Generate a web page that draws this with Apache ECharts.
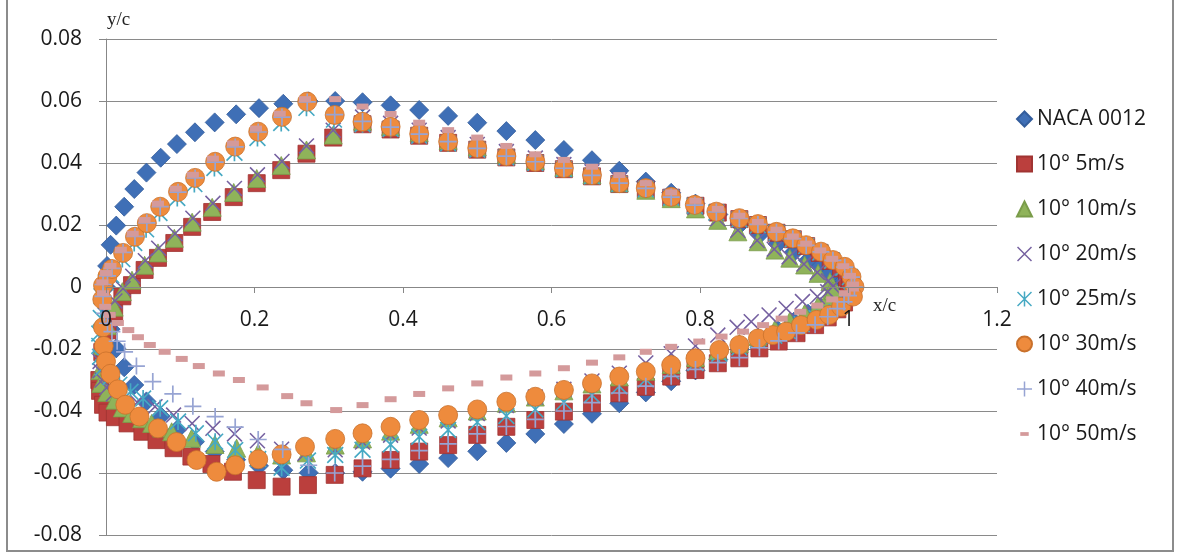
<!DOCTYPE html>
<html>
<head>
<meta charset="utf-8">
<script src="https://cdn.jsdelivr.net/npm/echarts@6/dist/echarts.min.js"></script>
<style>
html,body{margin:0;padding:0;background:#fff;}
#chart{width:1178px;height:554px;}
</style>
</head>
<body>
<div id="chart"></div>
<script>
// ---------------- DATA ----------------
const seriesNames = ['NACA 0012','10° 5m/s','10° 10m/s','10° 20m/s','10° 25m/s','10° 30m/s','10° 40m/s','10° 50m/s'];
const xTicks = [0, 0.2, 0.4, 0.6, 0.8, 1, 1.2];
const yTicks = [-0.08, -0.06, -0.04, -0.02, 0, 0.02, 0.04, 0.06, 0.08];

// NACA 0012 profile
const naca_x  = [0,0.0015,0.0062,0.0138,0.0245,0.0381,0.0545,0.0737,0.0955,0.1198,0.1464,0.1753,0.2061,0.2388,0.2730,0.3087,0.3455,0.3833,0.4218,0.4608,0.5000,0.5392,0.5782,0.6167,0.6545,0.6913,0.7270,0.7612,0.7939,0.8247,0.8536,0.8802,0.9045,0.9263,0.9455,0.9619,0.9755,0.9862,0.9938,0.9985,1.0];
const naca_yu = [0,0.0068,0.0136,0.0198,0.0259,0.0316,0.0369,0.0417,0.0461,0.0499,0.0531,0.0557,0.0577,0.0591,0.0599,0.0600,0.0596,0.0586,0.0571,0.0552,0.0530,0.0503,0.0474,0.0442,0.0409,0.0375,0.0340,0.0304,0.0269,0.0234,0.0201,0.0169,0.0139,0.0112,0.0086,0.0065,0.0046,0.0032,0.0021,0.0014,0.0013];
const naca_yl = [0,-0.0068,-0.0136,-0.0198,-0.0259,-0.0316,-0.0369,-0.0417,-0.0461,-0.0499,-0.0531,-0.0557,-0.0577,-0.0591,-0.0599,-0.0600,-0.0596,-0.0586,-0.0571,-0.0552,-0.0530,-0.0503,-0.0474,-0.0442,-0.0409,-0.0375,-0.0340,-0.0304,-0.0269,-0.0234,-0.0201,-0.0169,-0.0139,-0.0112,-0.0086,-0.0065,-0.0046,-0.0032,-0.0021,-0.0014,-0.0013];

// 10° 5m/s
const s5_up = [[-0.009,-0.030],[-0.005,-0.021],[0.002,-0.014],[0.011,-0.008],[0.022,-0.003],[0.035,0.0006],[0.052,0.0055],[0.070,0.0094],[0.092,0.0142],[0.116,0.0194],[0.143,0.0242],[0.172,0.0290],[0.203,0.0335],[0.236,0.0377],[0.270,0.0430],[0.306,0.0482],[0.3455,0.0525],[0.3833,0.0508],[0.4218,0.0488],[0.4608,0.0465],[0.5,0.0443],[0.5392,0.0418],[0.5782,0.0400],[0.6167,0.0380],[0.6545,0.0357],[0.6913,0.0332],[0.727,0.0315],[0.7612,0.0288],[0.7939,0.0262],[0.824,0.0240],[0.853,0.0219],[0.878,0.0200],[0.903,0.0175],[0.925,0.0154],[0.943,0.0132],[0.961,0.0110],[0.976,0.0084],[0.990,0.0060],[0.998,0.0030],[1.002,0.0000]];
const s5_lo = [[-0.008,-0.0335],[-0.004,-0.038],[0.002,-0.0405],[0.012,-0.0420],[0.029,-0.0440],[0.049,-0.0467],[0.068,-0.0494],[0.091,-0.0520],[0.115,-0.0547],[0.142,-0.0571],[0.171,-0.0596],[0.203,-0.0623],[0.2365,-0.0644],[0.272,-0.0639],[0.308,-0.0606],[0.3455,-0.0585],[0.3833,-0.0558],[0.4218,-0.0531],[0.4608,-0.0510],[0.5,-0.0477],[0.5392,-0.0451],[0.5782,-0.0429],[0.6167,-0.0402],[0.6545,-0.0375],[0.6913,-0.0343],[0.727,-0.0322],[0.7612,-0.0289],[0.7939,-0.0268],[0.824,-0.0246],[0.853,-0.0230],[0.880,-0.0198],[0.906,-0.0176],[0.930,-0.0149],[0.955,-0.0123],[0.972,-0.0098],[0.985,-0.0072],[0.994,-0.0050],[1.000,-0.0030]];

// 10° 10m/s
const s10_up = [[-0.008,-0.027],[-0.005,-0.019],[0.002,-0.0125],[0.011,-0.0065],[0.022,-0.0015],[0.035,0.0022],[0.052,0.0070],[0.070,0.0110],[0.092,0.0157],[0.116,0.0209],[0.143,0.0257],[0.172,0.0305],[0.203,0.0350],[0.236,0.0392],[0.270,0.0442],[0.306,0.0490],[0.3455,0.0535],[0.3833,0.0518],[0.4218,0.0498],[0.4608,0.0473],[0.5,0.0452],[0.5392,0.0428],[0.5782,0.0408],[0.6167,0.0386],[0.6545,0.0362],[0.6913,0.0336],[0.727,0.0312],[0.7612,0.0285],[0.7939,0.0252],[0.824,0.0215],[0.851,0.0178],[0.878,0.0146],[0.901,0.0119],[0.921,0.0093],[0.941,0.0071],[0.959,0.0044],[0.975,0.0017],[0.979,0.0000]];
const s10_lo = [[-0.007,-0.0311],[0.001,-0.0340],[0.012,-0.0365],[0.022,-0.0390],[0.0346,-0.0408],[0.048,-0.0425],[0.0615,-0.0440],[0.075,-0.0455],[0.0884,-0.0467],[0.1153,-0.0488],[0.1467,-0.0508],[0.1759,-0.0520],[0.205,-0.0535],[0.2365,-0.0542],[0.270,-0.0535],[0.3087,-0.0510],[0.3455,-0.0490],[0.3833,-0.0465],[0.4218,-0.0443],[0.4608,-0.0422],[0.5,-0.0400],[0.5392,-0.0375],[0.5782,-0.0355],[0.6167,-0.0335],[0.6545,-0.0313],[0.6913,-0.0290],[0.727,-0.0272],[0.7612,-0.0250],[0.7939,-0.0228],[0.824,-0.0205],[0.853,-0.0182],[0.878,-0.0160],[0.901,-0.0136],[0.921,-0.0110],[0.941,-0.0085],[0.959,-0.0060],[0.972,-0.0035],[0.979,-0.0012]];

// 10° 20m/s
const s20_up = [[-0.008,-0.024],[-0.004,-0.016],[0.003,-0.0105],[0.012,-0.0045],[0.023,-0.0005],[0.036,0.0035],[0.053,0.0085],[0.071,0.0125],[0.093,0.0172],[0.117,0.0222],[0.144,0.0270],[0.173,0.0318],[0.204,0.0362],[0.237,0.0405],[0.270,0.0455],[0.306,0.0506],[0.3455,0.0548],[0.3833,0.0528],[0.4218,0.0506],[0.4608,0.0482],[0.5,0.0460],[0.5392,0.0437],[0.5782,0.0416],[0.6167,0.0395],[0.6545,0.0372],[0.6913,0.0345],[0.727,0.0320],[0.7612,0.0292],[0.7939,0.0258],[0.824,0.0220],[0.851,0.0183],[0.877,0.0150],[0.900,0.0122],[0.920,0.0097],[0.940,0.0074],[0.958,0.0047],[0.973,0.0020],[0.979,0.0002]];
const s20_lo = [[-0.008,-0.027],[-0.005,-0.030],[0.001,-0.0325],[0.010,-0.0345],[0.024,-0.0360],[0.042,-0.0372],[0.066,-0.0386],[0.091,-0.0413],[0.116,-0.0440],[0.144,-0.0456],[0.173,-0.0474],[0.204,-0.0496],[0.2365,-0.0523],[0.268,-0.0537],[0.3087,-0.0525],[0.3455,-0.0500],[0.3833,-0.0478],[0.4218,-0.0455],[0.4608,-0.0432],[0.5,-0.0408],[0.5392,-0.0382],[0.5782,-0.0355],[0.6167,-0.0330],[0.6545,-0.0303],[0.6913,-0.0278],[0.727,-0.0245],[0.7612,-0.0215],[0.7939,-0.0190],[0.824,-0.0155],[0.850,-0.0130],[0.869,-0.0112],[0.893,-0.0090],[0.916,-0.0069],[0.938,-0.0047],[0.958,-0.0031],[0.972,-0.0015]];

// 10° 25m/s
const s25_up = [[-0.007,-0.010],[-0.006,-0.003],[0.000,0.0015],[0.007,0.0038],[0.022,0.0090],[0.038,0.0142],[0.054,0.0186],[0.072,0.0239],[0.096,0.0287],[0.119,0.0332],[0.146,0.0384],[0.173,0.0433],[0.204,0.0481],[0.236,0.0529],[0.270,0.0578],[0.307,0.0540],[0.3455,0.0525],[0.3833,0.0510],[0.4218,0.0488],[0.4608,0.0463],[0.5,0.0443],[0.5392,0.0418],[0.5782,0.0400],[0.6167,0.0380],[0.6545,0.0357],[0.6913,0.0332],[0.727,0.0315],[0.7612,0.0288],[0.793,0.0262],[0.822,0.0240],[0.853,0.0218],[0.878,0.0199],[0.903,0.0175],[0.925,0.0154],[0.943,0.0132],[0.962,0.0111],[0.978,0.0085],[0.993,0.0062],[1.002,0.0032],[1.006,0.0000]];
const s25_lo = [[-0.009,-0.015],[-0.009,-0.019],[-0.008,-0.0225],[-0.004,-0.026],[0.006,-0.0290],[0.018,-0.0315],[0.033,-0.0338],[0.050,-0.0360],[0.073,-0.0391],[0.097,-0.0434],[0.121,-0.0472],[0.147,-0.0499],[0.174,-0.0526],[0.205,-0.0555],[0.2365,-0.0583],[0.272,-0.0560],[0.3087,-0.0542],[0.3455,-0.0525],[0.3833,-0.0508],[0.4218,-0.0483],[0.4608,-0.0461],[0.5,-0.0436],[0.5392,-0.0416],[0.5782,-0.0395],[0.6167,-0.0372],[0.6545,-0.0348],[0.6913,-0.0320],[0.727,-0.0298],[0.7612,-0.0272],[0.7939,-0.0245],[0.826,-0.0215],[0.853,-0.0195],[0.878,-0.0172],[0.900,-0.0157],[0.918,-0.0142],[0.937,-0.0120],[0.957,-0.0100],[0.974,-0.0082],[0.990,-0.0058],[1.004,-0.0028]];

// 10° 30m/s
const s30_up = [[-0.005,-0.004],[-0.004,0.0005],[0.002,0.0035],[0.008,0.0058],[0.023,0.0110],[0.039,0.0162],[0.055,0.0206],[0.073,0.0259],[0.097,0.0307],[0.120,0.0352],[0.147,0.0404],[0.174,0.0453],[0.205,0.0501],[0.237,0.0549],[0.271,0.0598],[0.308,0.0555],[0.3455,0.0533],[0.3833,0.0517],[0.4218,0.0494],[0.4608,0.0469],[0.5,0.0448],[0.5392,0.0422],[0.5782,0.0404],[0.6167,0.0384],[0.6545,0.0361],[0.6913,0.0335],[0.727,0.0319],[0.7612,0.0291],[0.793,0.0265],[0.822,0.0243],[0.853,0.0222],[0.878,0.0203],[0.903,0.0178],[0.925,0.0157],[0.943,0.0135],[0.963,0.0114],[0.979,0.0087],[0.995,0.0065],[1.004,0.0033],[1.008,0.0001]];
const s30_lo = [[-0.004,-0.013],[-0.003,-0.019],[0.000,-0.024],[0.006,-0.028],[0.016,-0.033],[0.026,-0.038],[0.045,-0.0418],[0.070,-0.0456],[0.095,-0.0500],[0.122,-0.0558],[0.149,-0.0596],[0.174,-0.0575],[0.205,-0.0556],[0.2365,-0.0540],[0.268,-0.0515],[0.3087,-0.0490],[0.3455,-0.0472],[0.3833,-0.0451],[0.4218,-0.0429],[0.4608,-0.0413],[0.5,-0.0395],[0.5392,-0.0370],[0.5782,-0.0354],[0.6167,-0.0332],[0.6545,-0.0311],[0.6913,-0.0289],[0.727,-0.0273],[0.7612,-0.0252],[0.7939,-0.0230],[0.826,-0.0203],[0.853,-0.0187],[0.878,-0.0166],[0.898,-0.0155],[0.916,-0.0144],[0.936,-0.0123],[0.957,-0.0106],[0.974,-0.0090],[0.990,-0.0064],[1.006,-0.0031]];

// 10° 40m/s
const s40_up = [[-0.004,-0.003],[-0.004,0.0008],[0.002,0.0036],[0.008,0.0060],[0.023,0.0112],[0.039,0.0163],[0.055,0.0207],[0.073,0.0259],[0.097,0.0306],[0.120,0.0352],[0.147,0.0403],[0.174,0.0452],[0.205,0.0500],[0.237,0.0548],[0.271,0.0597],[0.308,0.0556],[0.3455,0.0534],[0.3833,0.0516],[0.4218,0.0493],[0.4608,0.0469],[0.5,0.0447],[0.5392,0.0422],[0.5782,0.0404],[0.6167,0.0383],[0.6545,0.0360],[0.6913,0.0335],[0.727,0.0318],[0.7612,0.0290],[0.793,0.0264],[0.822,0.0242],[0.853,0.0221],[0.878,0.0202],[0.903,0.0177],[0.925,0.0156],[0.943,0.0134],[0.963,0.0113],[0.979,0.0086],[0.995,0.0064],[1.004,0.0032],[1.008,0.0000]];
const s40_lo = [[-0.002,-0.0085],[0.002,-0.0117],[0.008,-0.0144],[0.015,-0.0175],[0.025,-0.0209],[0.041,-0.0255],[0.063,-0.0305],[0.090,-0.0345],[0.117,-0.0385],[0.147,-0.0418],[0.174,-0.0452],[0.205,-0.0492],[0.238,-0.0524],[0.273,-0.0575],[0.308,-0.0600],[0.3455,-0.0578],[0.3833,-0.0556],[0.4218,-0.0528],[0.4608,-0.0506],[0.5,-0.0474],[0.5392,-0.0450],[0.5782,-0.0427],[0.6167,-0.0400],[0.6545,-0.0373],[0.6913,-0.0342],[0.727,-0.0320],[0.7612,-0.0288],[0.7939,-0.0266],[0.824,-0.0244],[0.853,-0.0228],[0.880,-0.0196],[0.906,-0.0174],[0.930,-0.0148],[0.955,-0.0122],[0.972,-0.0096],[0.985,-0.0070],[0.994,-0.0048],[1.000,-0.0028]];

// 10° 50m/s
const s50_up = [[-0.004,-0.002],[-0.005,0.0015],[0.000,0.0045],[0.006,0.0068],[0.020,0.0120],[0.036,0.0172],[0.052,0.0216],[0.070,0.0269],[0.094,0.0317],[0.117,0.0362],[0.144,0.0414],[0.171,0.0463],[0.202,0.0511],[0.234,0.0559],[0.268,0.0606],[0.3087,0.0606],[0.3455,0.0582],[0.3833,0.0558],[0.4218,0.0530],[0.4608,0.0506],[0.5,0.0482],[0.5392,0.0455],[0.5782,0.0428],[0.6167,0.0410],[0.6545,0.0388],[0.6913,0.0361],[0.727,0.0335],[0.7612,0.0305],[0.7939,0.0278],[0.824,0.0252],[0.853,0.0230],[0.878,0.0210],[0.903,0.0185],[0.925,0.0163],[0.943,0.0140],[0.962,0.0118],[0.978,0.0091],[0.993,0.0067],[1.002,0.0036],[1.006,0.0008]];
const s50_lo = [[-0.001,-0.0064],[0.005,-0.0090],[0.016,-0.0116],[0.030,-0.0139],[0.043,-0.0162],[0.059,-0.0187],[0.079,-0.0209],[0.102,-0.0232],[0.125,-0.0255],[0.152,-0.0279],[0.179,-0.0300],[0.211,-0.0324],[0.244,-0.0352],[0.270,-0.0375],[0.310,-0.0397],[0.3455,-0.0381],[0.3833,-0.0362],[0.4218,-0.0345],[0.4608,-0.0327],[0.5,-0.0311],[0.5392,-0.0292],[0.5782,-0.0279],[0.6167,-0.0262],[0.6545,-0.0244],[0.6913,-0.0227],[0.727,-0.0209],[0.7612,-0.0193],[0.799,-0.0176],[0.829,-0.0160],[0.858,-0.0144],[0.885,-0.0123],[0.910,-0.0102],[0.935,-0.0080],[0.958,-0.0060],[0.978,-0.0040],[0.995,-0.0020],[1.006,-0.0005]];

// ---------------- CHART ----------------
const nacaData = naca_x.map((x, i) => [x, naca_yu[i]]).concat(naca_x.slice(1).map((x, i) => [x, naca_yl[i + 1]]));
const seriesData = [
  nacaData,
  s5_up.concat(s5_lo),
  s10_up.concat(s10_lo),
  s20_up.concat(s20_lo),
  s25_up.concat(s25_lo),
  s30_up.concat(s30_lo),
  s40_up.concat(s40_lo),
  s50_up.concat(s50_lo)
];

const PLUS = 'path://M7.2,0H8.8V7.2H16V8.8H8.8V16H7.2V8.8H0V7.2H7.2Z';
const CROSS = 'path://M0,1.1L1.1,0L16,14.9L14.9,16Z M14.9,0L16,1.1L1.1,16L0,14.9Z';
const STAR = 'path://M0,1.1L1.1,0L16,14.9L14.9,16Z M14.9,0L16,1.1L1.1,16L0,14.9Z M7.2,0H8.8V16H7.2Z';
const DASH_LEG = 'path://M0,0 M16,16 M3.5,6 H12.5 V10 H3.5 Z';

const styles = [
  {symbol: 'diamond', size: 19, color: '#3f6fb6', border: '#335d9c', icon: 'diamond'},
  {symbol: 'rect', size: 17, color: '#bb3f3d', border: '#a03432', icon: 'rect'},
  {symbol: 'triangle', size: 18, color: '#8fb35a', border: '#7a9c4a', icon: 'triangle'},
  {symbol: CROSS, size: 16, color: '#7560a0', border: null, icon: CROSS},
  {symbol: STAR, size: 17, color: '#46a9c3', border: null, icon: STAR},
  {symbol: 'circle', size: 19, color: '#ee8b3d', border: '#c9712c', icon: 'circle'},
  {symbol: PLUS, size: 17, color: '#97a4d3', border: null, icon: PLUS},
  {symbol: 'rect', size: [12, 6], color: '#d49a9b', border: null, icon: DASH_LEG}
];

const chart = echarts.init(document.getElementById('chart'), null, {renderer: 'canvas'});
const labelFont = '"Open Sans", "Liberation Sans", sans-serif';

const GRID_TOP = 39, GRID_BOTTOM = 19, CHART_H = 554;
// move the x axis up from the grid bottom to the y = 0 line
const xAxisOffset = -((CHART_H - GRID_BOTTOM - GRID_TOP) / 2);

chart.setOption({
  animation: false,
  backgroundColor: '#ffffff',
  grid: {left: 106, right: 181, top: GRID_TOP, bottom: GRID_BOTTOM, containLabel: false},
  xAxis: {
    type: 'value', min: xTicks[0], max: xTicks[xTicks.length - 1], interval: 0.2,
    position: 'bottom', offset: xAxisOffset, z: 10,
    name: 'x/c', nameLocation: 'end', nameGap: -124,
    nameTextStyle: {fontFamily: '"Liberation Serif", serif', fontSize: 19, color: '#222', align: 'left', verticalAlign: 'top', padding: [10, 0, 0, 0]},
    axisLine: {show: true, onZero: false, lineStyle: {color: '#878787', width: 1}},
    axisTick: {show: true, inside: false, length: 6, lineStyle: {color: '#878787'}},
    axisLabel: {margin: 23, fontFamily: labelFont, fontSize: 21, color: '#1a1a1a',
      showMinLabel: true, showMaxLabel: true, hideOverlap: false,
      formatter: v => String(Math.round(v * 10) / 10)},
    splitLine: {show: false}
  },
  yAxis: {
    type: 'value', min: yTicks[0], max: yTicks[yTicks.length - 1], interval: 0.02,
    name: 'y/c', nameLocation: 'end', nameGap: 9,
    nameTextStyle: {fontFamily: '"Liberation Serif", serif', fontSize: 19, color: '#222', align: 'left', padding: [0, 0, 0, 1]},
    axisLine: {show: true, onZero: false, lineStyle: {color: '#878787', width: 1}},
    axisTick: {show: true, inside: false, length: 7, lineStyle: {color: '#878787'}},
    axisLabel: {margin: 24, fontFamily: labelFont, fontSize: 21, color: '#1a1a1a',
      showMinLabel: true, showMaxLabel: true,
      formatter: v => { const r = Math.round(v * 100) / 100; return r === 0 ? '0' : r.toFixed(2); }},
    splitLine: {show: true, lineStyle: {color: '#8a8a8a', width: 1}}
  },
  legend: {
    orient: 'vertical', left: 1011, top: 102,
    itemWidth: 15, itemHeight: 15, itemGap: 21,
    textStyle: {fontFamily: labelFont, fontSize: 21, color: '#1a1a1a', lineHeight: 24},
    data: seriesNames.map((n, i) => ({name: n, icon: styles[i].icon})),
    selectedMode: false
  },
  graphic: [{
    type: 'rect', silent: true, z: 100,
    shape: {x: 7, y: -3, width: 1166, height: 554},
    style: {fill: 'none', stroke: '#8c8c8c', lineWidth: 2}
  }],
  series: seriesNames.map((n, i) => ({
    name: n,
    type: 'scatter',
    data: seriesData[i],
    symbol: styles[i].symbol,
    symbolSize: styles[i].size,
    clip: false,
    silent: true,
    z: 2,
    itemStyle: {color: styles[i].color, opacity: 1,
      borderColor: styles[i].border || styles[i].color, borderWidth: styles[i].border ? 0.8 : 0}
  }))
});
</script>
</body>
</html>
